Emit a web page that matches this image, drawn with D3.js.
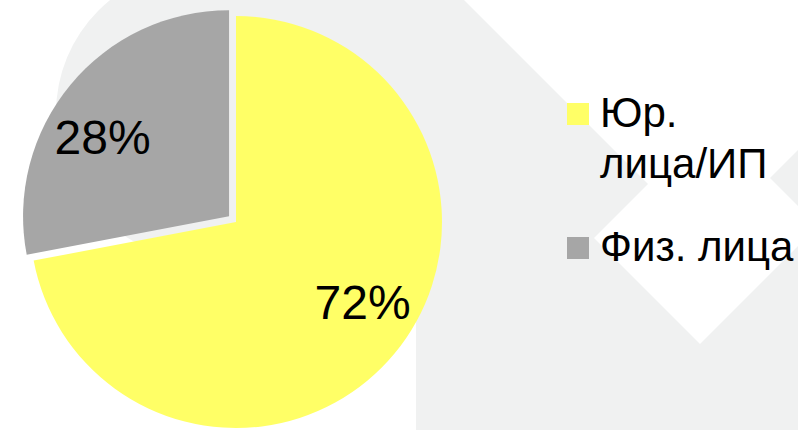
<!DOCTYPE html>
<html>
<head>
<meta charset="utf-8">
<script src="https://cdn.jsdelivr.net/npm/d3@7"></script>
<style>
  body { margin: 0; background: #fff; }
  svg { display: block; font-family: "Liberation Sans", Arial, sans-serif; }
</style>
</head>
<body>
<div id="canvas"></div>
<script>
// data
const categories = ["Юр. лица/ИП", "Физ. лица"];
const values = [72, 28];
const labels = ["72%", "28%"];
const legendLines = [["Юр.", "лица/ИП"], ["Физ. лица"]];
const colors = ["#ffff66", "#a6a6a6"];

const width = 798;
const height = 430;

const svg = d3.select("#canvas").append("svg")
    .attr("width", width)
    .attr("height", height);

// background decoration (slide shapes)
const bg = svg.append("g").attr("fill", "#f0f1f1");
bg.append("circle").attr("cx", 201).attr("cy", 113).attr("r", 145);
bg.append("path").attr("d",
    "M236,0 L464,0 L648,184 L594,238 L700,344 L798,246 L798,430 L416,430 L416,220 L236,220 Z");
bg.append("path").attr("d", "M770,178 L798,150 L798,206 Z");

// pie
const cx = 236, cy = 222, radius = 206, explode = 9;
const labelShift = -7.5 * Math.PI / 180; // best-fit labels sit a bit counter-clockwise

const pie = d3.pie().sort(null).value(d => d)(values);
const arc = d3.arc().innerRadius(0).outerRadius(radius);
const labelArc = d3.arc().innerRadius(radius * 0.725).outerRadius(radius * 0.725);

const g = svg.append("g").attr("transform", `translate(${cx},${cy})`);

const slices = g.selectAll("g.slice").data(pie).enter().append("g")
    .attr("class", "slice")
    .attr("transform", (d, i) => {
        if (i === 0) return null;
        const a = (d.startAngle + d.endAngle) / 2;
        return `translate(${Math.sin(a) * explode},${-Math.cos(a) * explode})`;
    });

slices.append("path")
    .attr("d", arc)
    .attr("fill", (d, i) => colors[i]);

slices.append("text")
    .attr("transform", d => {
        const s = { startAngle: d.startAngle + labelShift, endAngle: d.endAngle + labelShift };
        return `translate(${labelArc.centroid(s)})`;
    })
    .attr("text-anchor", "middle")
    .attr("dy", "0.36em")
    .attr("font-size", 48)
    .attr("fill", "#000")
    .text((d, i) => labels[i]);

// legend
const legendY = d3.scaleOrdinal().domain(categories).range([114, 248]);
const legend = svg.append("g").attr("transform", "translate(567,0)");

categories.forEach((c, i) => {
    const y = legendY(c);
    legend.append("rect")
        .attr("x", 0)
        .attr("y", y - 11)
        .attr("width", 22)
        .attr("height", 22)
        .attr("fill", colors[i]);
    legendLines[i].forEach((line, j) => {
        legend.append("text")
            .attr("x", 33)
            .attr("y", y + 13 + j * 51)
            .attr("font-size", 42)
            .attr("fill", "#000")
            .text(line);
    });
});
</script>
</body>
</html>
